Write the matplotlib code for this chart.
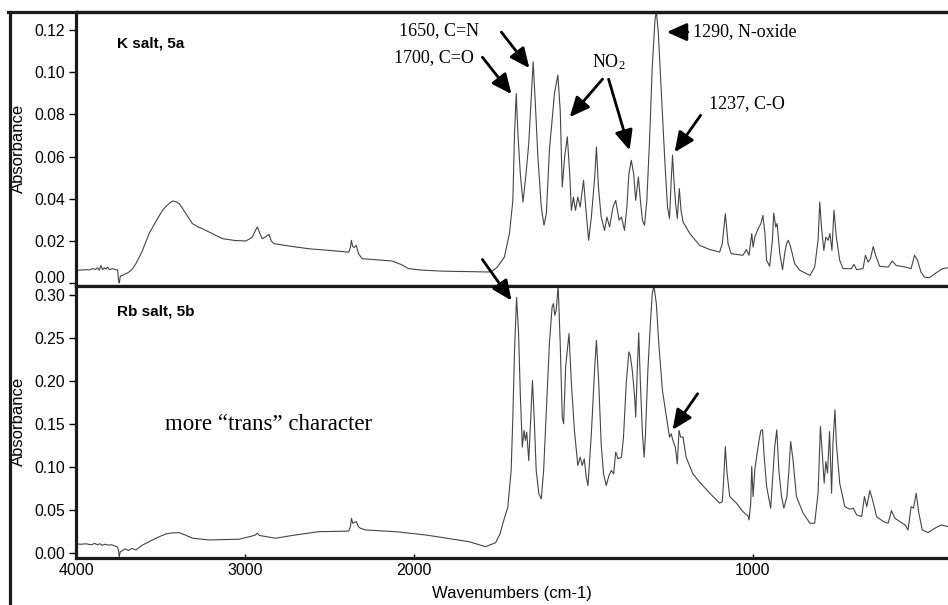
import numpy as np
import matplotlib
matplotlib.use("Agg")
import matplotlib.pyplot as plt
from matplotlib.lines import Line2D

# ---------------- data ----------------
k_wn = [4000, 3970, 3941, 3920, 3902, 3885, 3872, 3862, 3853, 3843, 3833, 3823, 3813, 3803, 3784, 3764, 3754,
        3748, 3744, 3738, 3720, 3705, 3690, 3670, 3646, 3610, 3568, 3530, 3489, 3455, 3430, 3410, 3390, 3350,
        3312, 3280, 3253, 3200, 3135, 3060, 2997, 2975, 2958, 2940, 2928, 2915, 2899, 2880, 2860, 2845, 2830,
        2750, 2624, 2500, 2400, 2388, 2378, 2372, 2365, 2355, 2344, 2330, 2309, 2230, 2132, 2080, 2034, 1980,
        1918, 1850, 1780, 1768, 1755, 1745, 1734, 1719, 1709, 1704, 1699, 1694, 1687, 1679, 1670, 1662, 1655,
        1649, 1643, 1635, 1625, 1617, 1610, 1601, 1586, 1576, 1569, 1563, 1556, 1548, 1541, 1536, 1530, 1524,
        1517, 1510, 1500, 1492, 1485, 1477, 1467, 1462, 1456, 1448, 1438, 1431, 1423, 1413, 1405, 1395, 1388,
        1379, 1372, 1366, 1359, 1352, 1346, 1338, 1332, 1326, 1320, 1313, 1305, 1297, 1289, 1285, 1279, 1270,
        1260, 1252, 1246, 1241, 1237, 1233, 1228, 1223, 1217, 1212, 1206, 1186, 1157, 1130, 1098, 1090, 1081,
        1073, 1064, 1029, 1019, 1011, 1006, 1003, 999, 994, 984, 976, 970, 964, 959, 950, 942, 938, 932, 928,
        920, 912, 905, 900, 895, 888, 876, 861, 831, 817, 807, 802, 797, 790, 784, 777, 772, 766, 760, 753,
        743, 733, 708, 701, 693, 674, 667, 659, 652, 644, 637, 625, 600, 588, 576, 547, 532, 522, 513, 503,
        493, 478, 459, 439, 423]
k_abs = [0.0062, 0.0063, 0.0065, 0.0064, 0.0070, 0.0066, 0.0074, 0.0062, 0.0085, 0.0065, 0.0074, 0.0068, 0.0077,
         0.0065, 0.0070, 0.0064, 0.0064, 0.0010, 0.0002, 0.0035, 0.0040, 0.0046, 0.0052, 0.0065, 0.0093, 0.0150,
         0.0236, 0.0290, 0.0346, 0.0375, 0.0390, 0.0387, 0.0378, 0.0330, 0.0283, 0.0268, 0.0259, 0.0238, 0.0212,
         0.0203, 0.0201, 0.0210, 0.0219, 0.0250, 0.0267, 0.0240, 0.0212, 0.0220, 0.0232, 0.0200, 0.0188, 0.0178,
         0.0164, 0.0156, 0.0149, 0.0148, 0.0170, 0.0204, 0.0175, 0.0170, 0.0180, 0.0140, 0.0117, 0.0112, 0.0106,
         0.0090, 0.0070, 0.0063, 0.0058, 0.0056, 0.0054, 0.0060, 0.0077, 0.0100, 0.0125, 0.0236, 0.0393, 0.0710,
         0.0899, 0.0710, 0.0520, 0.0385, 0.0520, 0.0662, 0.0867, 0.1049, 0.0867, 0.0599, 0.0362, 0.0275, 0.0330,
         0.0630, 0.0899, 0.0986, 0.0820, 0.0456, 0.0599, 0.0694, 0.0520, 0.0346, 0.0409, 0.0346, 0.0409, 0.0362,
         0.0488, 0.0330, 0.0204, 0.0314, 0.0504, 0.0646, 0.0456, 0.0314, 0.0251, 0.0314, 0.0267, 0.0362, 0.0393,
         0.0299, 0.0314, 0.0251, 0.0362, 0.0520, 0.0583, 0.0520, 0.0393, 0.0504, 0.0393, 0.0299, 0.0275, 0.0393,
         0.0678, 0.1025, 0.1247, 0.1290, 0.1184, 0.0899, 0.0583, 0.0362, 0.0307, 0.0488, 0.0607, 0.0488, 0.0378,
         0.0307, 0.0449, 0.0346, 0.0291, 0.0236, 0.0180, 0.0162, 0.0148, 0.0188, 0.0330, 0.0188, 0.0141, 0.0133,
         0.0160, 0.0133, 0.0196, 0.0236, 0.0172, 0.0219, 0.0259, 0.0283, 0.0322, 0.0236, 0.0109, 0.0081, 0.0204,
         0.0333, 0.0267, 0.0283, 0.0141, 0.0065, 0.0148, 0.0188, 0.0204, 0.0172, 0.0093, 0.0062, 0.0038, 0.0077,
         0.0204, 0.0385, 0.0267, 0.0156, 0.0219, 0.0204, 0.0236, 0.0156, 0.0346, 0.0219, 0.0109, 0.0070, 0.0070,
         0.0090, 0.0065, 0.0070, 0.0133, 0.0101, 0.0117, 0.0175, 0.0133, 0.0081, 0.0077, 0.0106, 0.0085, 0.0077,
         0.0070, 0.0133, 0.0109, 0.0054, 0.0030, 0.0027, 0.0049, 0.0070, 0.0074]

rb_wn = [4000, 3970, 3941, 3910, 3890, 3872, 3860, 3845, 3830, 3810, 3790, 3770, 3755, 3748, 3745, 3738, 3725,
         3710, 3690, 3670, 3646, 3610, 3568, 3520, 3469, 3430, 3391, 3360, 3312, 3214, 3037, 2958, 2940, 2929,
         2915, 2899, 2820, 2702, 2565, 2400, 2388, 2378, 2372, 2364, 2344, 2330, 2319, 2289, 2112, 1967, 1900,
         1839, 1790, 1760, 1746, 1739, 1724, 1714, 1709, 1704, 1698, 1692, 1687, 1681, 1676, 1672, 1668, 1662,
         1656, 1651, 1646, 1640, 1632, 1625, 1618, 1610, 1601, 1593, 1589, 1585, 1581, 1575, 1569, 1563, 1559,
         1553, 1543, 1536, 1527, 1517, 1510, 1504, 1498, 1492, 1487, 1477, 1467, 1462, 1455, 1448, 1441, 1433,
         1425, 1418, 1411, 1405, 1398, 1388, 1382, 1374, 1366, 1362, 1356, 1349, 1346, 1341, 1337, 1332, 1326,
         1321, 1317, 1310, 1302, 1297, 1292, 1285, 1277, 1267, 1255, 1246, 1241, 1236, 1229, 1223, 1218, 1213,
         1206, 1197, 1177, 1157, 1127, 1098, 1090, 1086, 1081, 1076, 1068, 1048, 1029, 1014, 1011, 1006, 1003,
         999, 994, 987, 981, 976, 971, 967, 959, 947, 942, 935, 929, 923, 915, 908, 899, 893, 888, 881, 871,
         851, 831, 817, 807, 800, 794, 789, 784, 779, 773, 767, 763, 757, 753, 743, 728, 713, 703, 693, 678,
         670, 663, 654, 646, 634, 614, 600, 590, 580, 565, 550, 541, 532, 525, 517, 510, 499, 482, 462, 443, 423]
rb_abs = [0.0101, 0.0098, 0.0103, 0.0092, 0.0108, 0.0090, 0.0105, 0.0085, 0.0098, 0.0088, 0.0092, 0.0078, 0.0065,
          0.0020, -0.0047, 0.0010, 0.0023, 0.0045, 0.0025, 0.0050, 0.0031, 0.0085, 0.0128, 0.0175, 0.0218, 0.0230,
          0.0233, 0.0210, 0.0168, 0.0148, 0.0156, 0.0194, 0.0205, 0.0226, 0.0200, 0.0194, 0.0168, 0.0206, 0.0244,
          0.0250, 0.0253, 0.0300, 0.0400, 0.0342, 0.0361, 0.0300, 0.0284, 0.0264, 0.0244, 0.0206, 0.0165, 0.0128,
          0.0070, 0.0115, 0.0226, 0.0334, 0.0528, 0.0955, 0.1576, 0.2351, 0.2965, 0.2546, 0.1847, 0.1227, 0.1420,
          0.1304, 0.1401, 0.1071, 0.1576, 0.2002, 0.1576, 0.0955, 0.0683, 0.0625, 0.0955, 0.1653, 0.2429, 0.2856,
          0.2895, 0.2759, 0.2817, 0.3100, 0.2429, 0.1576, 0.1498, 0.2158, 0.2546, 0.1964, 0.1420, 0.1013, 0.1110,
          0.1013, 0.1091, 0.0878, 0.0780, 0.1382, 0.2158, 0.2468, 0.1964, 0.1265, 0.0916, 0.0780, 0.0896, 0.0955,
          0.0916, 0.1169, 0.1091, 0.1110, 0.1343, 0.1964, 0.2333, 0.2293, 0.2118, 0.1809, 0.1576, 0.2158, 0.2554,
          0.1964, 0.1382, 0.1110, 0.1382, 0.2118, 0.2700, 0.3011, 0.3100, 0.2895, 0.2391, 0.1886, 0.1576, 0.1343,
          0.1382, 0.1304, 0.1227, 0.1032, 0.1420, 0.1343, 0.1343, 0.1110, 0.0916, 0.0820, 0.0691, 0.0575, 0.0594,
          0.0846, 0.1234, 0.0924, 0.0652, 0.0575, 0.0477, 0.0427, 0.0381, 0.0575, 0.1001, 0.0652, 0.0963, 0.1157,
          0.1312, 0.1420, 0.1428, 0.1157, 0.0768, 0.0517, 0.0808, 0.1234, 0.1428, 0.0963, 0.0652, 0.0517, 0.0652,
          0.0963, 0.1292, 0.1079, 0.0652, 0.0459, 0.0342, 0.0342, 0.0691, 0.1467, 0.1118, 0.0808, 0.1059, 0.0924,
          0.1408, 0.0691, 0.1273, 0.1661, 0.1273, 0.0808, 0.0535, 0.0505, 0.0517, 0.0439, 0.0419, 0.0652, 0.0535,
          0.0722, 0.0613, 0.0419, 0.0361, 0.0342, 0.0489, 0.0400, 0.0361, 0.0322, 0.0264, 0.0535, 0.0517, 0.0691,
          0.0477, 0.0264, 0.0233, 0.0284, 0.0322, 0.0303]

x_ticks = [4000, 3000, 2000, 1000]
k_yticks = [0.00, 0.02, 0.04, 0.06, 0.08, 0.10, 0.12]
rb_yticks = [0.00, 0.05, 0.10, 0.15, 0.20, 0.25, 0.30]
panel_labels = ["K salt, 5a", "Rb salt, 5b"]
xlabel = "Wavenumbers (cm-1)"
ylabel = "Absorbance"

# ---------------- figure ----------------
plt.rcParams['font.family'] = ['Liberation Sans', 'DejaVu Sans']
W, H = 948, 605
fig = plt.figure(figsize=(W / 100, H / 100), dpi=100)


def fwd(w):
    w = np.asarray(w, dtype=float)
    return np.where(w >= 2000, w, 2 * w - 2000)


def inv(p):
    p = np.asarray(p, dtype=float)
    return np.where(p >= 2000, p, (p + 2000) / 2)


def ax_rect(top_px, bot_px):
    left = 76 / W
    return [left, 1 - bot_px / H, 1 - left, (bot_px - top_px) / H]


ax1 = fig.add_axes(ax_rect(12, 285.5))
ax2 = fig.add_axes(ax_rect(285.5, 558))

line_col = '#454545'
spine_col = '#1a1a1a'
for ax in (ax1, ax2):
    ax.set_xscale('function', functions=(fwd, inv))
    ax.set_xlim(4000, 423)
    for s in ('left', 'top', 'bottom'):
        ax.spines[s].set_linewidth(2.3)
        ax.spines[s].set_color(spine_col)
    ax.spines['right'].set_visible(False)
    ax.tick_params(axis='y', direction='out', length=5, width=1, labelsize=11.3, pad=3)
    ax.tick_params(axis='x', direction='in', length=3, width=1, labelsize=11.5)
    ax.set_ylabel(ylabel, fontsize=12)

ax1.plot(k_wn, k_abs, color=line_col, lw=0.8)
ax2.plot(rb_wn, rb_abs, color=line_col, lw=0.8)

ax1.set_ylim(-0.001, 0.1285)
ax1.set_yticks(k_yticks)
ax1.set_yticklabels([f"{v:.2f}" for v in k_yticks])
ax1.set_xticks(x_ticks)
ax1.tick_params(axis='x', length=0, labelbottom=False)

ax2.set_ylim(-0.0062, 0.3105)
ax2.set_yticks(rb_yticks)
ax2.set_yticklabels([f"{v:.2f}" for v in rb_yticks])
ax2.set_xticks(x_ticks)
ax2.set_xticklabels([str(v) for v in x_ticks])
ax2.set_xlabel(xlabel, fontsize=12, labelpad=6)

# keep the two labels that meet at the panel junction from colliding
ax1.get_yticklabels()[0].set_va('baseline')

for ax in (ax1, ax2):
    ax.yaxis.set_label_coords(-0.0575, 0.5)

# panel labels
ax1.text(3758, 0.1138, panel_labels[0], fontsize=11, fontweight='bold', ha='left', va='center')
ax2.text(3758, 0.2802, panel_labels[1], fontsize=11, fontweight='bold', ha='left', va='center')

serif = ['Liberation Serif', 'DejaVu Serif']
aprops = dict(arrowstyle='-|>,head_length=0.8,head_width=0.36', lw=2.0, color='black',
              shrinkA=0, shrinkB=0, mutation_scale=15)

# annotations, top panel
ax1.text(2118, 0.1071, "1700, C=O", family=serif, fontsize=13, ha='left', va='center')
ax1.annotate("", xy=(1713, 0.0896), xytext=(1799, 0.1071), arrowprops=aprops)
ax1.text(2089, 0.1199, "1650, C=N", family=serif, fontsize=13, ha='left', va='center')
ax1.annotate("", xy=(1660, 0.1019), xytext=(1743, 0.1190), arrowprops=aprops)
ax1.text(1426, 0.1048, r"NO$\mathregular{_2}$", family=serif, fontsize=13, ha='center', va='center')
ax1.annotate("", xy=(1541, 0.0787), xytext=(1444, 0.0967), arrowprops=aprops)
ax1.annotate("", xy=(1364, 0.0630), xytext=(1426, 0.0967), arrowprops=aprops)
ax1.text(1177, 0.1194, "1290, N-oxide", family=serif, fontsize=13, ha='left', va='center')
ax1.annotate("", xy=(1254, 0.1190), xytext=(1192, 0.1190), arrowprops=aprops)
ax1.text(1130, 0.0853, "1237, C-O", family=serif, fontsize=13, ha='left', va='center')
ax1.annotate("", xy=(1231, 0.0621), xytext=(1154, 0.0796), arrowprops=aprops)

# annotations, bottom panel
ax2.annotate("", xy=(1713, 0.293), xytext=(1799, 0.3407), arrowprops=aprops, annotation_clip=False)
ax2.annotate("", xy=(1237, 0.1428), xytext=(1163, 0.1847), arrowprops=aprops)
ax2.text(3475, 0.1486, "more \u201ctrans\u201d character", family=serif, fontsize=16.5,
         ha='left', va='center')

# outer frame (left and top)
fig.add_artist(Line2D([9.5 / W, 9.5 / W], [0, 1 - 12 / H], transform=fig.transFigure,
                      color=spine_col, lw=2.3))
fig.add_artist(Line2D([8 / W, 1], [1 - 12 / H, 1 - 12 / H], transform=fig.transFigure,
                      color=spine_col, lw=2.3))

fig.savefig("out.png", dpi=100)
